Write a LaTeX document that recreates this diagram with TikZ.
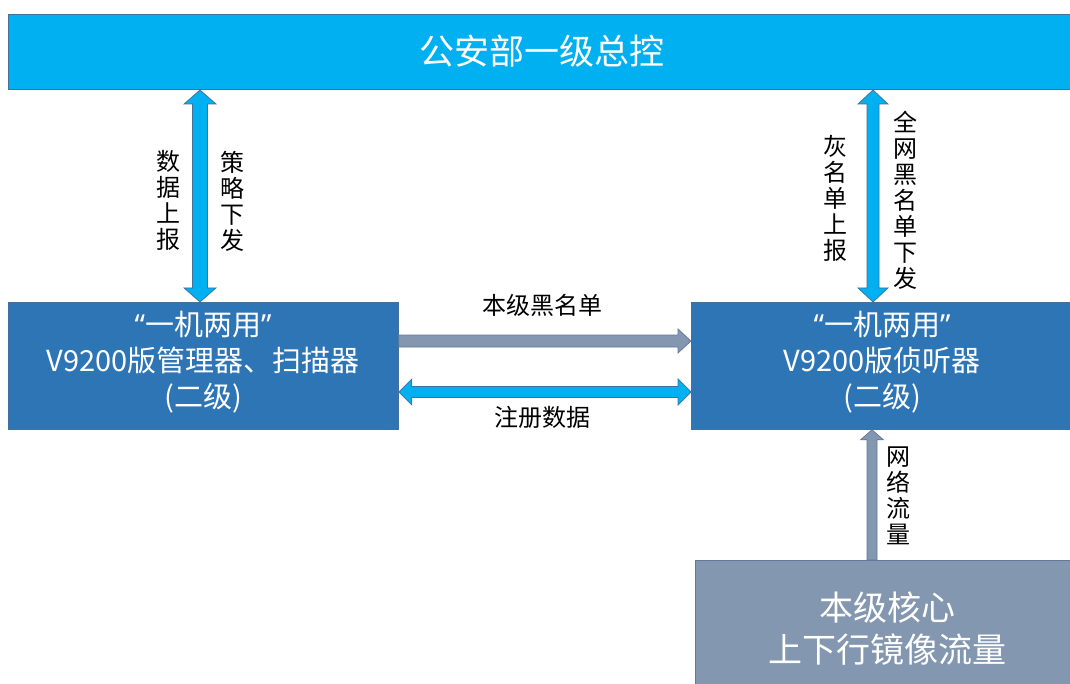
\documentclass[tikz,border=0pt]{standalone}
\usepackage{fontspec}
\setmainfont{Noto Sans CJK SC}
\newfontfamily\latinq{Noto Sans}
\usetikzlibrary{calc}
\definecolor{topc}{HTML}{00B0F0}
\definecolor{boxc}{HTML}{2E75B6}
\definecolor{grayc}{HTML}{8497B0}
\definecolor{edgec}{HTML}{41719C}
\definecolor{grayedge}{HTML}{61789A}
\newcommand\dblV[6]{\filldraw[#1] (#2) -- ($(#2)+(#5,#6)$) -- ($(#2)+(#4,#6)$) -- ($(#3)+(#4,-#6)$) -- ($(#3)+(#5,-#6)$) -- (#3) -- ($(#3)+(-#5,-#6)$) -- ($(#3)+(-#4,-#6)$) -- ($(#2)+(-#4,#6)$) -- ($(#2)+(-#5,#6)$) -- cycle;}
\newcommand\dblH[6]{\filldraw[#1] (#2) -- ($(#2)+(#6,-#5)$) -- ($(#2)+(#6,-#4)$) -- ($(#3)+(-#6,-#4)$) -- ($(#3)+(-#6,-#5)$) -- (#3) -- ($(#3)+(-#6,#5)$) -- ($(#3)+(-#6,#4)$) -- ($(#2)+(#6,#4)$) -- ($(#2)+(#6,#5)$) -- cycle;}
\newcommand\oneH[6]{\filldraw[#1] ($(#2)+(0,-#4)$) -- ($(#3)+(-#6,-#4)$) -- ($(#3)+(-#6,-#5)$) -- (#3) -- ($(#3)+(-#6,#5)$) -- ($(#3)+(-#6,#4)$) -- ($(#2)+(0,#4)$) -- cycle;}
\newcommand\oneV[6]{\filldraw[#1] ($(#2)+(-#4,0)$) -- ($(#3)+(-#4,#6)$) -- ($(#3)+(-#5,#6)$) -- (#3) -- ($(#3)+(#5,#6)$) -- ($(#3)+(#4,#6)$) -- ($(#2)+(#4,0)$) -- cycle;}
\newcommand\quoted[1]{{\latinq “}#1{\latinq ”}}
\begin{document}
\begin{tikzpicture}[x=1pt,y=-1pt,
  topbox/.style={draw=edgec, line width=1pt, fill=topc, anchor=north west, inner sep=0pt},
  bluebox/.style={draw=edgec, line width=0.8pt, fill=boxc, anchor=north west, inner sep=0pt},
  graybox/.style={draw=grayedge, line width=0.8pt, fill=grayc, anchor=north west, inner sep=0pt},
  boxtext/.style={text=white, align=center, inner sep=0pt, font=\fontsize{29}{36}\selectfont},
  vlabel/.style={inner sep=0pt, align=center, font=\fontsize{24}{26}\selectfont, text=black},
  hlabel/.style={inner sep=0pt, font=\fontsize{24}{28}\selectfont, text=black},
  cyanarrow/.style={fill=topc, draw=edgec, line width=0.7pt},
  grayarrow/.style={fill=grayc, draw=grayedge, line width=0.7pt}]
\useasboundingbox[fill=white] (0,0) rectangle (1070,684);
\node[topbox, minimum width=1066pt, minimum height=75pt] (top) at (8,14) {};
\node[text=white, font=\fontsize{35}{40}\selectfont, inner sep=0pt] (toptext) at (542,51) {公安部一级总控};
\node[bluebox, minimum width=390pt, minimum height=127pt] (L) at (8,302) {};
\node[boxtext] (Ltext) at (203,362) {\quoted{一机两用}\\V9200版管理器、扫描器\\(二级)};
\node[bluebox, minimum width=385pt, minimum height=127pt] (R) at (691,302) {};
\node[boxtext] (Rtext) at (882,362) {\quoted{一机两用}\\V9200版侦听器\\(二级)};
\node[graybox, minimum width=380pt, minimum height=130pt] (B) at (695,560) {};
\node[text=white, align=center, inner sep=0pt, font=\fontsize{34}{42}\selectfont] (Btext) at (887,629) {本级核心\\上下行镜像流量};
\coordinate (xa) at (200,0);
\coordinate (xb) at (873,0);
\coordinate (xc) at (872,0);
\coordinate (ya) at (0,341);
\coordinate (yb) at (0,392);
\coordinate (a1) at (top.south -| xa);
\coordinate (a2) at (L.north -| xa);
\coordinate (b1) at (top.south -| xb);
\coordinate (b2) at (R.north -| xb);
\coordinate (c1) at (L.east |- ya);
\coordinate (c2) at (R.west |- ya);
\coordinate (d1) at (L.east |- yb);
\coordinate (d2) at (R.west |- yb);
\coordinate (e1) at (B.north -| xc);
\coordinate (e2) at (R.south -| xc);
\dblV{cyanarrow}{a1}{a2}{7.5}{16}{14}
\dblV{cyanarrow}{b1}{b2}{6}{15}{14}
\oneH{grayarrow}{c1}{c2}{6}{12}{13}
\dblH{cyanarrow}{d1}{d2}{5.5}{13}{13}
\oneV{grayarrow}{e1}{e2}{5}{11.5}{10}
\node[vlabel] (la) at (168,200) {数\\据\\上\\报};
\node[vlabel] (lb) at (232,201) {策\\略\\下\\发};
\node[vlabel] (lc) at (835,198) {灰\\名\\单\\上\\报};
\node[vlabel] (ld) at (905,200) {全\\网\\黑\\名\\单\\下\\发};
\node[vlabel] (le) at (898,496) {网\\络\\流\\量};
\node[hlabel] (lf) at (542,305) {本级黑名单};
\node[hlabel] (lg) at (542,417) {注册数据};
\end{tikzpicture}
\end{document}
